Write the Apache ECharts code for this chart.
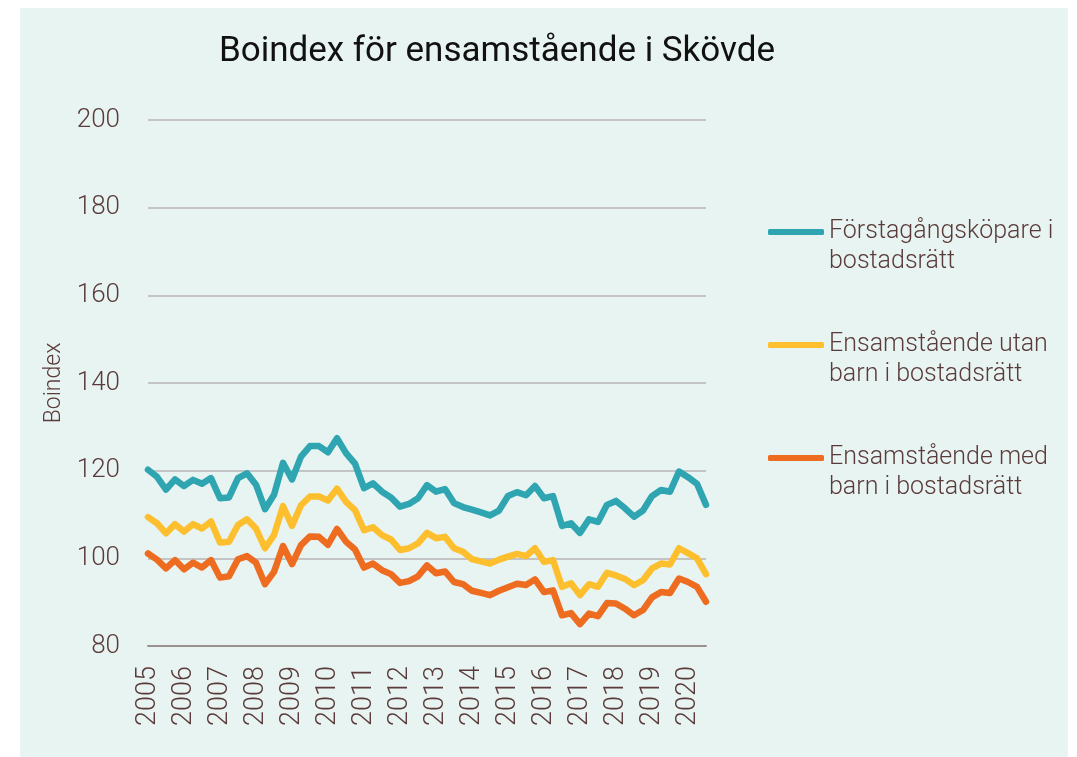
<!DOCTYPE html>
<html>
<head>
<meta charset="utf-8">
<script src="https://cdn.jsdelivr.net/npm/echarts@6/dist/echarts.min.js"></script>
<style>
  html, body { margin: 0; padding: 0; background: #ffffff; }
  #chart { width: 1077px; height: 757px; }
</style>
</head>
<body>
<div id="chart"></div>
<script>
// Quarterly index, 2005 Q1 – 2020 Q3
const years = [2005, 2006, 2007, 2008, 2009, 2010, 2011, 2012, 2013, 2014, 2015, 2016, 2017, 2018, 2019, 2020];
const quarterCount = 63;

const forstagangskopare = [
  120.2, 118.6, 115.7, 118.0, 116.5, 117.9, 117.0, 118.3, 113.7, 113.9,
  118.3, 119.4, 116.8, 111.2, 114.5, 121.8, 118.0, 123.2, 125.6, 125.6,
  124.2, 127.4, 124.0, 121.6, 116.0, 117.1, 115.2, 113.9, 111.8, 112.4,
  113.7, 116.7, 115.2, 115.8, 112.6, 111.7, 111.1, 110.5, 109.8, 110.9,
  114.2, 115.1, 114.4, 116.5, 113.7, 114.2, 107.4, 108.0, 105.8, 108.9,
  108.3, 112.2, 113.1, 111.4, 109.5, 110.9, 114.2, 115.6, 115.2, 119.8,
  118.5, 117.0, 112.2
];

const utanBarn = [
  109.4, 108.0, 105.7, 107.8, 106.1, 107.8, 106.8, 108.4, 103.6, 103.8,
  107.6, 108.9, 106.8, 102.3, 105.3, 111.9, 107.4, 112.1, 114.1, 114.1,
  113.2, 115.9, 112.9, 111.0, 106.4, 107.1, 105.3, 104.3, 101.9, 102.3,
  103.4, 105.8, 104.6, 104.9, 102.3, 101.5, 99.8, 99.3, 98.8, 99.7,
  100.4, 101.0, 100.5, 102.3, 99.2, 99.6, 93.5, 94.3, 91.6, 94.1,
  93.5, 96.7, 96.1, 95.3, 93.9, 95.0, 97.7, 98.8, 98.6, 102.3,
  101.2, 100.0, 96.4
];

const medBarn = [
  101.1, 99.7, 97.7, 99.6, 97.5, 99.0, 97.9, 99.6, 95.6, 95.9,
  99.8, 100.5, 99.0, 94.1, 96.9, 102.8, 98.7, 103.0, 105.0, 104.9,
  103.1, 106.7, 103.8, 102.0, 97.9, 98.8, 97.3, 96.4, 94.4, 94.8,
  95.9, 98.4, 96.6, 97.0, 94.6, 94.1, 92.6, 92.1, 91.6, 92.6,
  93.4, 94.2, 93.9, 95.2, 92.3, 92.7, 87.0, 87.5, 85.0, 87.4,
  86.8, 89.8, 89.7, 88.5, 87.0, 88.2, 91.1, 92.3, 92.1, 95.4,
  94.6, 93.5, 90.1
];

const seriesNames = [
  'Förstagångsköpare i\nbostadsrätt',
  'Ensamstående utan\nbarn i bostadsrätt',
  'Ensamstående med\nbarn i bostadsrätt'
];
const seriesColors = ['#30a5b2', '#fdbf2e', '#ee6c20'];

// One category per quarter; only the first quarter of each year is labelled
const quarters = [];
for (let i = 0; i < quarterCount; i++) {
  const y = years[0] + Math.floor(i / 4);
  quarters.push(y + ' Q' + (i % 4 + 1));
}

const textBrown = '#5a3b3b';
const font = 'Roboto, "DejaVu Sans", sans-serif';

const chart = echarts.init(document.getElementById('chart'), null, { renderer: 'canvas' });

function lineSeries(name, data, color) {
  return {
    name: name,
    type: 'line',
    data: data,
    showSymbol: false,
    symbol: 'none',
    smooth: false,
    lineStyle: { color: color, width: 6.5, cap: 'round', join: 'round' },
    itemStyle: { color: color },
    emphasis: { disabled: true }
  };
}

chart.setOption({
  animation: false,
  backgroundColor: 'transparent',
  graphic: [{
    type: 'rect',
    z: -10,
    silent: true,
    shape: { x: 20, y: 8, width: 1048, height: 760 },
    style: { fill: '#e8f4f1' }
  }],
  title: {
    text: 'Boindex för ensamstående i Skövde',
    left: 492,
    textAlign: 'center',
    top: 30,
    textStyle: {
      fontFamily: font,
      fontSize: 35,
      fontWeight: 400,
      color: '#111111'
    }
  },
  legend: {
    orient: 'vertical',
    left: 768,
    top: 187,
    padding: 0,
    itemGap: 23,
    itemWidth: 56,
    itemHeight: 6,
    icon: 'roundRect',
    selectedMode: false,
    data: seriesNames.map((n, k) => ({ name: n, itemStyle: { color: seriesColors[k] } })),
    // a blank leading line keeps the first text line level with the swatch
    formatter: name => ' \n' + name,
    textStyle: {
      fontFamily: font,
      fontSize: 25,
      fontWeight: 300,
      color: textBrown,
      lineHeight: 30
    }
  },
  grid: {
    left: 148,
    right: 371,
    top: 120,
    bottom: 111
  },
  xAxis: {
    type: 'category',
    data: quarters,
    boundaryGap: false,
    axisLine: { show: true, lineStyle: { color: '#9c9191', width: 2 } },
    axisTick: { show: false },
    splitLine: { show: false },
    axisLabel: {
      interval: 3,
      rotate: 90,
      margin: 20,
      fontFamily: font,
      fontSize: 27,
      fontWeight: 300,
      color: textBrown,
      formatter: v => v.split(' ')[0]
    }
  },
  yAxis: {
    type: 'value',
    min: 80,
    max: 200,
    interval: 20,
    name: 'Boindex',
    nameLocation: 'middle',
    nameGap: 80,
    nameTextStyle: {
      fontFamily: font,
      fontSize: 23,
      fontWeight: 300,
      color: textBrown
    },
    axisLine: { show: false },
    axisTick: { show: false },
    splitLine: { show: true, lineStyle: { color: '#c4c4c4', width: 2 } },
    axisLabel: {
      margin: 28,
      fontFamily: font,
      fontSize: 26,
      fontWeight: 300,
      color: textBrown
    }
  },
  series: [
    lineSeries(seriesNames[0], forstagangskopare, seriesColors[0]),
    lineSeries(seriesNames[1], utanBarn, seriesColors[1]),
    lineSeries(seriesNames[2], medBarn, seriesColors[2])
  ]
});
</script>
</body>
</html>
